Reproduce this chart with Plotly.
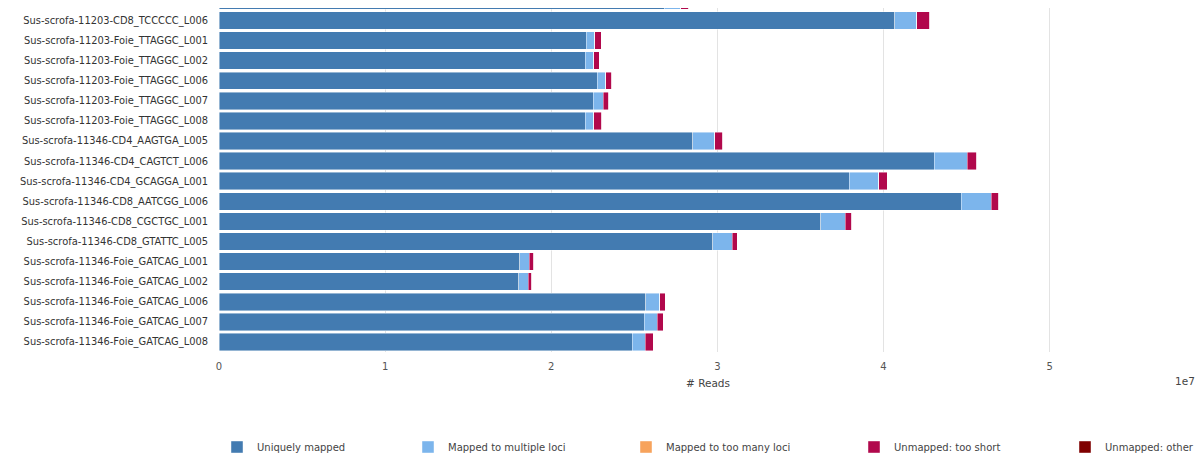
import plotly.graph_objects as go

# Samples, top to bottom (the first one is only partly visible at the top edge)
samples = [
    "Sus-scrofa-11203-CD8_TCCCCC_L005",
    "Sus-scrofa-11203-CD8_TCCCCC_L006",
    "Sus-scrofa-11203-Foie_TTAGGC_L001",
    "Sus-scrofa-11203-Foie_TTAGGC_L002",
    "Sus-scrofa-11203-Foie_TTAGGC_L006",
    "Sus-scrofa-11203-Foie_TTAGGC_L007",
    "Sus-scrofa-11203-Foie_TTAGGC_L008",
    "Sus-scrofa-11346-CD4_AAGTGA_L005",
    "Sus-scrofa-11346-CD4_CAGTCT_L006",
    "Sus-scrofa-11346-CD4_GCAGGA_L001",
    "Sus-scrofa-11346-CD8_AATCGG_L006",
    "Sus-scrofa-11346-CD8_CGCTGC_L001",
    "Sus-scrofa-11346-CD8_GTATTC_L005",
    "Sus-scrofa-11346-Foie_GATCAG_L001",
    "Sus-scrofa-11346-Foie_GATCAG_L002",
    "Sus-scrofa-11346-Foie_GATCAG_L006",
    "Sus-scrofa-11346-Foie_GATCAG_L007",
    "Sus-scrofa-11346-Foie_GATCAG_L008",
]

# Read counts
uniquely_mapped = [26790000, 40670000, 22100000, 22040000, 22770000, 22540000, 22040000,
                   28510000, 43060000, 37940000, 44670000, 36230000, 29710000,
                   18100000, 18040000, 25690000, 25590000, 24870000]
multiple_loci = [1000000, 1340000, 520000, 520000, 510000, 580000, 520000,
                 1340000, 1970000, 1770000, 1820000, 1460000, 1180000,
                 560000, 560000, 840000, 780000, 800000]
too_many_loci = [0] * 18
unmapped_short = [500000, 770000, 390000, 340000, 350000, 330000, 470000,
                  480000, 580000, 520000, 460000, 400000, 300000,
                  280000, 220000, 340000, 380000, 480000]
unmapped_other = [0] * 18

series_names = ["Uniquely mapped", "Mapped to multiple loci", "Mapped to too many loci",
                "Unmapped: too short", "Unmapped: other"]
series_values = [uniquely_mapped, multiple_loci, too_many_loci, unmapped_short, unmapped_other]
series_colors = ["#437bb1", "#7cb5ec", "#f7a35c", "#b1084c", "#7f0000"]

x_tick_values = [0, 10000000, 20000000, 30000000, 40000000, 50000000]
x_tick_labels = ["0", "1", "2", "3", "4", "5"]

FONT = "DejaVu Sans"
W, H = 1202, 464

# one legend per series so that the entries sit where the reference has them
legend_ids = ["legend", "legend2", "legend3", "legend4", "legend5"]
legend_left_px = [217, 408, 626, 854, 1065]

fig = go.Figure()
for name, vals, col, lid in zip(series_names, series_values, series_colors, legend_ids):
    fig.add_trace(go.Bar(
        y=samples, x=vals, name=name, orientation="h", legend=lid,
        marker=dict(color=col, line=dict(color="rgba(255,255,255,0.55)", width=0.8)),
    ))

legend_layouts = {}
for lid, lx in zip(legend_ids, legend_left_px):
    legend_layouts[lid] = dict(
        orientation="h", xref="container", yref="container",
        x=lx / W, y=(H - 447) / H, xanchor="left", yanchor="middle",
        font=dict(family=FONT, size=10, color="#444444"),
        bgcolor="rgba(0,0,0,0)",
    )

fig.update_layout(
    width=W, height=H,
    barmode="stack", bargap=0.13,
    paper_bgcolor="white", plot_bgcolor="white",
    margin=dict(l=219, r=5, t=8, b=112),
    font=dict(family=FONT, size=10, color="#333333"),
    showlegend=True,
    xaxis=dict(
        range=[0, 58870000],
        tickvals=x_tick_values, ticktext=x_tick_labels,
        showgrid=True, gridcolor="#e3e3e3", gridwidth=1,
        zeroline=False, showline=False,
        ticks="outside", ticklen=5, tickcolor="rgba(0,0,0,0)",
        tickfont=dict(family=FONT, size=10, color="#555555"),
        title=dict(text="# Reads", font=dict(family=FONT, size=10.5, color="#444444"), standoff=8),
    ),
    yaxis=dict(
        type="category", categoryorder="array", categoryarray=samples,
        range=[17.5, 0.38],
        showgrid=False, zeroline=False, showline=False,
        ticks="outside", ticklen=8, tickcolor="rgba(0,0,0,0)",
        tickfont=dict(family=FONT, size=9.9, color="#333333"),
    ),
    annotations=[dict(
        text="1e7", xref="paper", yref="paper", x=1.0, y=-0.083,
        xanchor="right", yanchor="middle", showarrow=False,
        font=dict(family=FONT, size=10.5, color="#444444"),
    )],
    **legend_layouts,
)

fig.write_html("out.html")
